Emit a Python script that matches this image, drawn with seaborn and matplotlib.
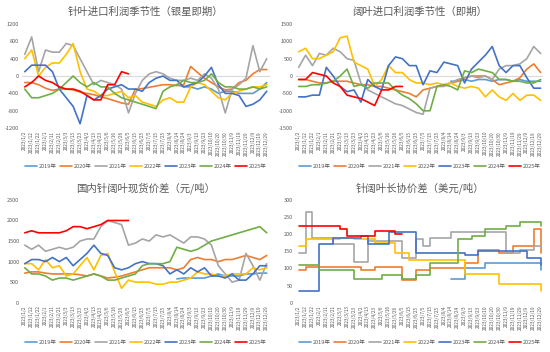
import numpy as np
import pandas as pd
import matplotlib
matplotlib.use('Agg')
import matplotlib.pyplot as plt
import seaborn as sns

nan = np.nan

# 横轴日期标签
dates = ['2023/1/2', '2023/1/12', '2023/1/22', '2023/2/1', '2023/2/11', '2023/2/21',
         '2023/3/3', '2023/3/13', '2023/3/23', '2023/4/2', '2023/4/13', '2023/4/23',
         '2023/5/6', '2023/5/16', '2023/5/26', '2023/6/5', '2023/6/15', '2023/6/25',
         '2023/7/5', '2023/7/15', '2023/7/25', '2023/8/4', '2023/8/14', '2023/8/24',
         '2023/9/3', '2023/9/13', '2023/9/23', '2023/10/10', '2023/10/20', '2023/10/30',
         '2023/11/9', '2023/11/19', '2023/11/29', '2023/12/9', '2023/12/19', '2023/12/29']

years = ['2019年', '2020年', '2021年', '2022年', '2023年', '2024年', '2025年']
colors = ['#5B9BD5', '#ED7D31', '#A5A5A5', '#FFC000', '#4472C4', '#70AD47', '#FF0000']

# 针叶进口利润季节性（银星即期）
tl_2019 = [nan] * 22 + [-200, -250, -250, -300, -250, -300, -400, -350, -350, -400, -400, -400, -300, -150]
tl_2020 = [-150, -150, -200, -280, -330, -300, -300, -320, -370, -400, -430, -480, -520, -570, -620, -650,
           -300, -290, -260, -230, -200, -200, -220, -200, 220, 80, -50, -150, -250, -320, -300, -150,
           -100, 50, 150, 150]
tl_2021 = [500, 900, 100, 600, 550, 550, 750, 700, 400, 100, -200, -100, -150, -200, -300, -850,
           -400, -100, 50, 100, 50, -50, -100, -100, -50, -100, 50, -50, -300, -850, -300, -200,
           -50, 700, 100, 400]
tl_2022 = [400, 600, 0, 200, 300, 300, 500, 750, 100, -300, -350, -450, -450, -400, -350, -500,
           -450, -600, -650, -700, -550, -500, -600, -600, -250, -150, -200, -350, -500, -550, -400, -350,
           -300, -250, -250, -200]
tl_2023 = [100, 250, 250, 250, 100, -300, -500, -700, -1100, -450, -550, -450, -300, -250, -200, -300,
           -300, -350, -150, -50, 0, -100, -100, -250, -200, -150, 0, 200, -200, -400, -400, -450,
           -700, -650, -550, -350]
tl_2024 = [-300, -500, -500, -450, -400, -300, -150, 0, -150, -250, -150, -250, -250, -400, -500, -550,
           -600, -650, -700, -750, -350, -250, -200, -100, -150, -150, -100, 50, -150, -250, -250, -300,
           -300, -250, -300, -250]
tl_2025 = [-250, -150, 0, -100, -150, -250, -300, -300, -350, -450, -550, -550, -200, -200, 100, 50] + [nan] * 20

# 阔叶进口利润季节性（即期）
tr_2019 = [nan] * 22 + [-150, -150, -100, -150, -100, -100, -150, -100, -100, -150, -100, -150, -150, -150]
tr_2020 = [-100, -100, -150, -200, -200, -150, -150, -150, -200, -250, -250, -300, -300, -350, -400, -450,
           -500, -600, -400, -350, -300, -250, -200, -150, -50, 0, 0, 0, -100, -250, -200, -150,
           -50, 200, 350, 100]
tr_2021 = [250, 600, 300, 650, 600, 800, 700, 500, 450, -200, -400, -500, -600, -700, -800, -850,
           -950, -1050, -1100, -350, -300, -300, -200, -100, -50, 0, -50, 0, -100, 200, 300, 300,
           350, 500, 850, 650]
tr_2022 = [700, 800, 500, 500, 600, 700, 1100, 1150, 400, 300, 200, -300, -100, 300, 100, 100,
           -100, -200, -200, -250, -200, -250, -200, -300, -350, -300, -350, -600, -400, -600, -700, -500,
           -700, -550, -550, -700]
tr_2023 = [-600, -600, -550, -550, 250, 0, -300, -450, -400, -750, -100, -300, -400, 300, 550, 500,
           300, 300, -250, 150, 100, 400, 350, 300, -200, 200, 400, 600, 850, 300, 100, 300,
           300, -50, -350, -350]
tr_2024 = [-300, -300, -250, -250, -200, -150, 0, 200, -300, -250, -350, -200, -200, -200, -400, -550,
           -650, -800, -1000, -1000, -300, -250, -300, -400, 150, 100, 200, 150, 100, -100, -100, -150,
           -150, -200, -200, -100]
tr_2025 = [-100, -100, 100, 50, 0, -200, -300, -550, -600, -650, -750, -850, -400, -400, -300, -300] + [nan] * 20

# 国内针阔叶现货价差（元/吨）
bl_2019 = [nan] * 22 + [580, 600, 600, 600, 600, 650, 700, 650, 650, 650, 700, 700, 720, 720]
bl_2020 = [720, 750, 750, 720, 700, 700, 700, 700, 680, 650, 700, 650, 600, 620, 650, 700,
           750, 800, 850, 850, 850, 850, 800, 850, 1050, 1100, 1050, 1050, 1000, 1050, 1050, 1100,
           1150, 1100, 1050, 1150]
bl_2021 = [1400, 1300, 1400, 1250, 1300, 1350, 1300, 1350, 1500, 1550, 1550, 1850, 2000, 1950, 1900, 1400,
           1450, 1550, 1500, 1650, 1600, 1650, 1550, 1450, 1600, 1600, 1550, 1400, 900, 700, 500, 550,
           1200, 900, 550, 950]
bl_2022 = [950, 950, 800, 1050, 850, 900, 650, 700, 900, 1100, 800, 1150, 1200, 750, 350, 550,
           500, 500, 500, 450, 450, 500, 500, 550, 600, 750, 700, 700, 650, 650, 700, 700,
           700, 850, 800, 850]
bl_2023 = [950, 1050, 1050, 1000, 1100, 1000, 1100, 900, 1050, 1200, 1400, 1200, 1150, 850, 800, 850,
           950, 1000, 950, 950, 900, 700, 800, 700, 850, 750, 850, 650, 650, 600, 700, 550,
           550, 700, 900, 900]
bl_2024 = [850, 700, 700, 650, 550, 600, 600, 550, 600, 650, 700, 650, 550, 550, 600, 650,
           700, 900, 950, 950, 950, 1000, 1350, 1300, 1250, 1300, 1400, 1500, 1550, 1600, 1650, 1700,
           1750, 1800, 1850, 1700]
bl_2025 = [1700, 1750, 1700, 1700, 1700, 1700, 1750, 1850, 1850, 1800, 1850, 1900, 2000, 2000, 2000, 2000] + [nan] * 20

# 针阔叶长协价差（美元/吨）
br_2019 = [nan] * 22 + [70, 70, 100, 100, 100, 115, 115, 115, 115, 115, 115, 115, 115, 95]
br_2020 = [95, 105, 105, 105, 105, 105, 105, 105, 105, 95, 95, 105, 105, 105, 105, 65,
           65, 95, 95, 100, 100, 100, 100, 100, 115, 115, 155, 155, 155, 145, 145, 165,
           165, 165, 215, 145]
br_2021 = [145, 265, 190, 190, 190, 170, 170, 170, 120, 120, 180, 180, 180, 180, 180, 130,
           130, 185, 165, 190, 190, 190, 205, 205, 205, 205, 205, 205, 205, 205, 145, 145,
           155, 155, 165, 165]
br_2022 = [165, 185, 185, 185, 185, 185, 190, 190, 185, 185, 185, 175, 175, 175, 145, 145,
           125, 125, 125, 125, 125, 125, 125, 125, 85, 85, 85, 85, 85, 55, 55, 55,
           55, 55, 55, 35]
br_2023 = [35, 35, 35, 170, 170, 190, 190, 190, 190, 195, 170, 170, 170, 205, 205, 205,
           205, 145, 145, 145, 145, 145, 145, 145, 140, 140, 150, 150, 150, 150, 150, 150,
           150, 130, 130, 110]
br_2024 = [110, 110, 110, 95, 95, 95, 95, 95, 70, 70, 70, 70, 80, 80, 80, 70,
           70, 80, 80, 115, 115, 115, 115, 185, 185, 195, 195, 215, 215, 215, 225, 225,
           235, 235, 235, 225]
br_2025 = [225, 225, 225, 225, 225, 225, 215, 195, 195, 195, 195, 210, 210, 210, 200, 200] + [nan] * 20


def make_df(series):
    rows = []
    for year, vals in zip(years, series):
        for i, v in enumerate(vals):
            if not np.isnan(v):
                rows.append({'x': i, 'value': v, 'year': year})
    return pd.DataFrame(rows)


panels = [
    ('针叶进口利润季节性（银星即期）', [tl_2019, tl_2020, tl_2021, tl_2022, tl_2023, tl_2024, tl_2025],
     (-1200, 1200), np.arange(-1200, 1201, 400), None),
    ('阔叶进口利润季节性（即期）', [tr_2019, tr_2020, tr_2021, tr_2022, tr_2023, tr_2024, tr_2025],
     (-1500, 1500), np.arange(-1500, 1501, 500), None),
    ('国内针阔叶现货价差（元/吨）', [bl_2019, bl_2020, bl_2021, bl_2022, bl_2023, bl_2024, bl_2025],
     (0, 2500), np.arange(0, 2501, 500), None),
    ('针阔叶长协价差（美元/吨）', [br_2019, br_2020, br_2021, br_2022, br_2023, br_2024, br_2025],
     (0, 300), np.arange(0, 301, 50), 'steps-post'),
]

sns.set_theme(style='white')
plt.rcParams['font.family'] = ['Noto Sans CJK SC', 'DejaVu Sans']
plt.rcParams['axes.unicode_minus'] = False

fig = plt.figure(figsize=(5.5, 3.52), dpi=100)
palette = dict(zip(years, colors))
boxes = [
    [0.040, 0.636, 0.450, 0.296],
    [0.538, 0.636, 0.450, 0.296],
    [0.040, 0.140, 0.450, 0.292],
    [0.538, 0.140, 0.450, 0.292],
]
title_y = [0.966, 0.966, 0.466, 0.466]
legend_y = [0.528, 0.528, 0.028, 0.028]

for k, (title, series, ylim, yticks, ds) in enumerate(panels):
    ax = fig.add_axes(boxes[k])
    df = make_df(series)
    kw = {'drawstyle': ds} if ds else {}
    sns.lineplot(data=df, x='x', y='value', hue='year', hue_order=years, palette=palette,
                 linewidth=1.2, ax=ax, legend=True, **kw)
    ax.set_ylim(*ylim)
    ax.set_yticks(yticks)
    ax.set_xlim(-0.4, 35.4)
    ax.set_xticks(range(len(dates)))
    ax.set_xticklabels(dates, rotation=90, fontsize=3.4, color='#595959')
    ax.tick_params(axis='y', labelsize=4, colors='#595959', length=0, pad=2)
    ax.tick_params(axis='x', length=0, pad=2)
    for s in ax.spines.values():
        s.set_visible(False)
    ax.axhline(0, color='#D9D9D9', lw=0.8, zorder=0)
    ax.set_xlabel('')
    ax.set_ylabel('')
    cx = boxes[k][0] + boxes[k][2] / 2
    fig.text(cx, title_y[k], title, ha='center', va='center', fontsize=7.5, color='#595959')
    sns.move_legend(ax, 'center', bbox_to_anchor=(cx, legend_y[k]), bbox_transform=fig.transFigure,
                    ncol=7, frameon=False, title=None, fontsize=4, handlelength=2.2,
                    columnspacing=0.6, handletextpad=0.3, borderpad=0.1)
    for t in ax.get_legend().get_texts():
        t.set_color('#595959')

plt.savefig('out.png', dpi=100, facecolor='white')
